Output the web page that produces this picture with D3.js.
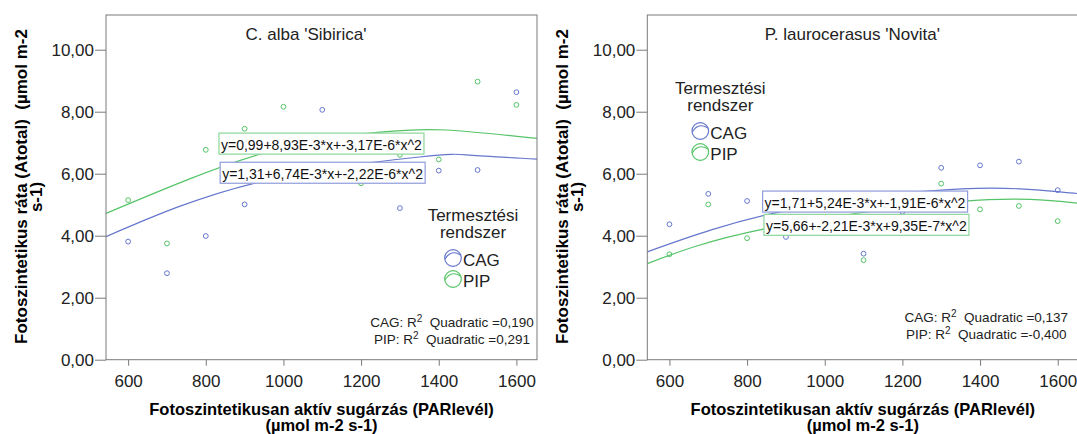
<!DOCTYPE html>
<html>
<head>
<meta charset="utf-8">
<script src="https://cdn.jsdelivr.net/npm/d3@7"></script>
<style>
  body { margin: 0; background: #fff; }
  svg { display: block; font-family: "Liberation Sans", Arial, sans-serif; }
</style>
</head>
<body>
<svg class="chart"></svg>
<script>
// PAR levels (x) shared by every series
const parValues = [600, 700, 800, 900, 1000, 1100, 1200, 1300, 1400, 1500, 1600];

// C. alba 'Sibirica' — measured points (null = not visible / hidden behind a label)
const albaCAG = [3.81, 2.79, 3.99, 5.01, null, 8.06, null, 4.89, 6.10, 6.12, 8.63];
const albaPIP = [5.15, 3.75, 6.77, 7.45, 8.16, null, 5.69, 6.61, 6.46, 8.97, 8.22];

// P. laurocerasus 'Novita'
const novitaCAG = [4.37, 5.35, 5.12, 3.96, null, 3.42, 4.77, 6.19, 6.27, 6.39, 5.47];
const novitaPIP = [3.40, 5.01, 3.92, null, null, 3.21, null, 5.68, 4.85, 4.96, 4.47];

// quadratic fit lines
const albaCAGFitX = [543, 930, 1350, 1480, 1653];
const albaCAGFitY = [3.97, 5.71, 6.54, 6.60, 6.47];
const albaPIPFitX = [543, 948, 1248, 1420, 1653];
const albaPIPFitY = [4.72, 6.66, 7.34, 7.41, 7.14];
const novitaCAGFitX = [543, 900, 1352, 1600, 1653];
const novitaCAGFitY = [3.48, 4.81, 5.51, 5.42, 5.36];
const novitaPIPFitX = [543, 842, 1352, 1653];
const novitaPIPFitY = [3.10, 4.21, 5.11, 5.05];

const xTicks = [600, 800, 1000, 1200, 1400, 1600];
const yTicks = [0, 2, 4, 6, 8, 10];

const groups = ["CAG", "PIP"];
const colors = { CAG: "#6576cc", PIP: "#55c468" };
const boxColors = { CAG: "#8f9cdc", PIP: "#8bd699" };

const width = 1077, height = 434;
const plotW = 431, plotTop = 15, plotBottom = 359.7;

const panels = [
  {
    left: 106, title: "C. alba 'Sibirica'", titleDx: 200, titleY: 39.5,
    series: { CAG: albaCAG, PIP: albaPIP },
    fits: { CAG: [albaCAGFitX, albaCAGFitY], PIP: [albaPIPFitX, albaPIPFitY] },
    eqs: [
      { g: "PIP", text: "y=0,99+8,93E-3*x+-3,17E-6*x^2", x: 834, y: 7.31 },
      { g: "CAG", text: "y=1,31+6,74E-3*x+-2,22E-6*x^2", x: 837, y: 6.37 }
    ],
    legend: { dx: 367, y: 221 },
    r2: { dx: 346, y: 326.7, CAG: "0,190", PIP: "0,291" }
  },
  {
    left: 647.3, title: "P. laurocerasus 'Novita'", titleDx: 205, titleY: 40,
    series: { CAG: novitaCAG, PIP: novitaPIP },
    fits: { CAG: [novitaCAGFitX, novitaCAGFitY], PIP: [novitaPIPFitX, novitaPIPFitY] },
    eqs: [
      { g: "CAG", text: "y=1,71+5,24E-3*x+-1,91E-6*x^2", x: 840, y: 5.44 },
      { g: "PIP", text: "y=5,66+-2,21E-3*x+9,35E-7*x^2", x: 843.5, y: 4.69 }
    ],
    legend: { dx: 73, y: 94 },
    r2: { dx: 339, y: 321.5, CAG: "0,137", PIP: "-0,400" }
  }
];

const svg = d3.select(".chart")
    .attr("width", width)
    .attr("height", height);

const fmt = d => d.toFixed(2).replace(".", ",");

panels.forEach((p, i) => {
    const x = d3.scaleLinear().domain([543, 1653]).range([p.left, p.left + plotW]);
    const y = d3.scaleLinear().domain([0, 11.12]).range([plotBottom, plotTop]);

    const g = svg.append("g");

    g.append("clipPath").attr("id", "clip" + i)
      .append("rect")
        .attr("x", p.left).attr("y", plotTop)
        .attr("width", plotW).attr("height", plotBottom - plotTop);

    // points
    groups.forEach(k => {
        const pts = parValues.map((v, j) => ({ x: v, y: p.series[k][j] })).filter(d => d.y != null);
        g.append("g").selectAll("circle")
          .data(pts)
          .enter().append("circle")
            .attr("cx", d => x(d.x))
            .attr("cy", d => y(d.y))
            .attr("r", 2.4)
            .attr("fill", "none")
            .attr("stroke", colors[k])
            .attr("stroke-width", 1);
    });

    // fit lines
    const line = d3.line().x(d => x(d[0])).y(d => y(d[1])).curve(d3.curveNatural);
    groups.forEach(k => {
        const [fx, fy] = p.fits[k];
        g.append("path")
            .attr("clip-path", `url(#clip${i})`)
            .attr("d", line(fx.map((v, j) => [v, fy[j]])))
            .attr("fill", "none")
            .attr("stroke", colors[k])
            .attr("stroke-width", 1.2);
    });

    // equation labels
    p.eqs.forEach(e => {
        const lg = g.append("g");
        const rect = lg.append("rect");
        const t = lg.append("text")
            .attr("x", x(e.x) + 2)
            .attr("y", y(e.y) + 16.5)
            .attr("font-size", 14)
            .attr("fill", "#111")
            .text(e.text);
        const bb = t.node().getBBox();
        rect.attr("x", x(e.x)).attr("y", y(e.y))
            .attr("width", bb.width + 4).attr("height", 21)
            .attr("fill", "#fff")
            .attr("stroke", boxColors[e.g])
            .attr("stroke-width", 1.2);
    });

    // legend
    const cx = p.left + p.legend.dx, by = p.legend.y;
    g.append("text").attr("x", cx).attr("y", by).attr("text-anchor", "middle")
        .attr("font-size", 17).attr("fill", "#222").text("Termesztési");
    g.append("text").attr("x", cx).attr("y", by + 17).attr("text-anchor", "middle")
        .attr("font-size", 17).attr("fill", "#222").text("rendszer");
    groups.forEach((k, j) => {
        const sy = by + 37 + j * 21, sx = cx - 20;
        g.append("circle").attr("cx", sx).attr("cy", sy).attr("r", 8.3)
            .attr("fill", "none").attr("stroke", colors[k]).attr("stroke-width", 1.2);
        g.append("path")
            .attr("d", `M${sx - 8},${sy + 1} Q${sx - 2},${sy - 9} ${sx + 7.5},${sy - 3}`)
            .attr("fill", "none").attr("stroke", colors[k]).attr("stroke-width", 1.2);
        g.append("text").attr("x", sx + 10).attr("y", sy + 7.5)
            .attr("font-size", 17).attr("fill", "#222").text(k);
    });

    // R² notes
    groups.forEach((k, j) => {
        const t = g.append("text")
            .attr("x", p.left + p.r2.dx)
            .attr("y", p.r2.y + j * 17)
            .attr("text-anchor", "middle")
            .attr("font-size", 13.5)
            .attr("fill", "#222");
        t.append("tspan").text(k + ": R");
        t.append("tspan").attr("font-size", 10).attr("dy", -5).text("2");
        t.append("tspan").attr("dy", 5).text("\u00a0 Quadratic =" + p.r2[k]);
    });

    // frame
    g.append("rect")
        .attr("x", p.left).attr("y", plotTop)
        .attr("width", plotW).attr("height", plotBottom - plotTop)
        .attr("fill", "none").attr("stroke", "#7a7a7a").attr("stroke-width", 1);

    // axes
    const ax = g.append("g")
        .attr("transform", `translate(0, ${plotBottom})`)
        .call(d3.axisBottom(x).tickValues(xTicks).tickFormat(d3.format("d")).tickSize(6).tickPadding(9));
    const ay = g.append("g")
        .attr("transform", `translate(${p.left}, 0)`)
        .call(d3.axisLeft(y).tickValues(yTicks).tickFormat(fmt).tickSize(11).tickPadding(1));
    [ax, ay].forEach(a => {
        a.select(".domain").remove();
        a.selectAll("line").attr("stroke", "#7a7a7a");
        a.selectAll("text").attr("font-size", 17).attr("fill", "#222")
            .attr("font-family", "Liberation Sans, Arial, sans-serif");
    });

    // titles
    g.append("text")
        .attr("x", p.left + p.titleDx).attr("y", p.titleY)
        .attr("text-anchor", "middle").attr("font-size", 17).attr("fill", "#222")
        .text(p.title);

    const xc = p.left + plotW / 2;
    g.append("text").attr("x", xc).attr("y", 414.5).attr("text-anchor", "middle")
        .attr("font-size", 16.5).attr("font-weight", "bold").text("Fotoszintetikusan aktív sugárzás (PARlevél)");
    g.append("text").attr("x", xc).attr("y", 431).attr("text-anchor", "middle")
        .attr("font-size", 16.5).attr("font-weight", "bold").text("(µmol m-2 s-1)");

    const tx = p.left - 79;
    g.append("text")
        .attr("transform", `translate(${tx}, 186.5) rotate(-90)`)
        .attr("text-anchor", "middle").attr("font-size", 17).attr("font-weight", "bold")
        .text("Fotoszintetikus ráta (Atotal)\u00a0 (µmol m-2");
    g.append("text")
        .attr("transform", `translate(${tx + 15}, 197) rotate(-90)`)
        .attr("text-anchor", "middle").attr("font-size", 17).attr("font-weight", "bold")
        .text("s-1)");
});
</script>
</body>
</html>
